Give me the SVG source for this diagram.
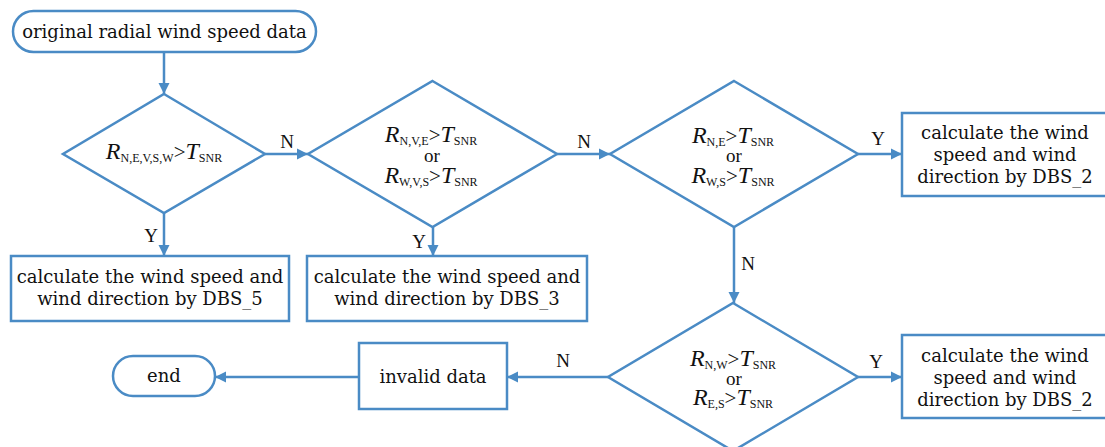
<svg xmlns="http://www.w3.org/2000/svg" width="1105" height="447" viewBox="0 0 1105 447">
<style>
.s{fill:#fff;stroke:#4a8bc5;stroke-width:2.5}
.c{fill:none;stroke:#4a8bc5;stroke-width:2.5}
.t{font-family:"DejaVu Serif","Liberation Serif",serif;font-size:18px;fill:#111;text-anchor:middle}
.l{font-family:"Liberation Serif",serif;font-size:19px;fill:#111;text-anchor:middle}
.m{font-family:"Liberation Serif",serif;font-size:21px;fill:#111;text-anchor:middle}
.o{font-family:"Liberation Serif",serif;font-size:19px;fill:#111;text-anchor:middle}
.i{font-style:italic;font-size:24px}
.b{font-size:12px}
</style>
<defs>
<marker id="ah" markerUnits="userSpaceOnUse" markerWidth="12" markerHeight="12" refX="11" refY="6" orient="auto">
<path d="M0,0.5 L11,6 L0,11.5 z" fill="#4a8bc5"/>
</marker>
</defs>
<g id="connectors">
<path class="c" d="M164,52 V94" marker-end="url(#ah)"/>
<path class="c" d="M265,154 H308" marker-end="url(#ah)"/>
<path class="c" d="M164,213 V256" marker-end="url(#ah)"/>
<path class="c" d="M557,154 H610" marker-end="url(#ah)"/>
<path class="c" d="M433,227 V256" marker-end="url(#ah)"/>
<path class="c" d="M858,154 H902" marker-end="url(#ah)"/>
<path class="c" d="M734,227 V303" marker-end="url(#ah)"/>
<path class="c" d="M858,377 H902" marker-end="url(#ah)"/>
<path class="c" d="M608,377 H507" marker-end="url(#ah)"/>
<path class="c" d="M359,377 H215" marker-end="url(#ah)"/>
<text class="l" x="287" y="148">N</text>
<text class="l" x="151" y="242">Y</text>
<text class="l" x="584" y="148">N</text>
<text class="l" x="419" y="248">Y</text>
<text class="l" x="878" y="145">Y</text>
<text class="l" x="748" y="270">N</text>
<text class="l" x="876" y="368">Y</text>
<text class="l" x="563" y="367">N</text>
</g>
<g id="start">
<rect class="s" x="13" y="11" width="303" height="41" rx="20.5"/>
<text class="t" x="164.5" y="38">original radial wind speed data</text>
</g>
<g id="d1">
<polygon class="s" points="164,94 265,154 164,213 63,154"/>
<text class="m" x="164" y="159"><tspan class="i">R</tspan><tspan class="b" dy="3">N,E,V,S,W</tspan><tspan dy="-3">&gt;</tspan><tspan class="i">T</tspan><tspan class="b" dy="3">SNR</tspan></text>
</g>
<g id="d2">
<polygon class="s" points="432.5,81 557,154 432.5,227 308,154"/>
<text class="m" x="431" y="142"><tspan class="i">R</tspan><tspan class="b" dy="3">N,V,E</tspan><tspan dy="-3">&gt;</tspan><tspan class="i">T</tspan><tspan class="b" dy="3">SNR</tspan></text>
<text class="o" x="432" y="162">or</text>
<text class="m" x="431" y="183"><tspan class="i">R</tspan><tspan class="b" dy="3">W,V,S</tspan><tspan dy="-3">&gt;</tspan><tspan class="i">T</tspan><tspan class="b" dy="3">SNR</tspan></text>
</g>
<g id="d3">
<polygon class="s" points="734,81 858,154 734,227 610,154"/>
<text class="m" x="733" y="143"><tspan class="i">R</tspan><tspan class="b" dy="3">N,E</tspan><tspan dy="-3">&gt;</tspan><tspan class="i">T</tspan><tspan class="b" dy="3">SNR</tspan></text>
<text class="o" x="734" y="162">or</text>
<text class="m" x="733" y="183"><tspan class="i">R</tspan><tspan class="b" dy="3">W,S</tspan><tspan dy="-3">&gt;</tspan><tspan class="i">T</tspan><tspan class="b" dy="3">SNR</tspan></text>
</g>
<g id="d4">
<polygon class="s" points="733,303 858,377 733,451 608,377"/>
<text class="m" x="733" y="366"><tspan class="i">R</tspan><tspan class="b" dy="3">N,W</tspan><tspan dy="-3">&gt;</tspan><tspan class="i">T</tspan><tspan class="b" dy="3">SNR</tspan></text>
<text class="o" x="734" y="385">or</text>
<text class="m" x="733" y="405"><tspan class="i">R</tspan><tspan class="b" dy="3">E,S</tspan><tspan dy="-3">&gt;</tspan><tspan class="i">T</tspan><tspan class="b" dy="3">SNR</tspan></text>
</g>
<g id="dbs5">
<rect class="s" x="11" y="256" width="278" height="65"/>
<text class="t" x="150" y="283">calculate the wind speed and</text>
<text class="t" x="150" y="305">wind direction by DBS_5</text>
</g>
<g id="dbs3">
<rect class="s" x="307" y="256" width="280" height="65"/>
<text class="t" x="447" y="283">calculate the wind speed and</text>
<text class="t" x="447" y="305">wind direction by DBS_3</text>
</g>
<g id="dbs2a">
<rect class="s" x="902" y="113" width="205" height="83"/>
<text class="t" x="1005" y="139">calculate the wind</text>
<text class="t" x="1005" y="161">speed and wind</text>
<text class="t" x="1005" y="183">direction by DBS_2</text>
</g>
<g id="dbs2b">
<rect class="s" x="902" y="335" width="205" height="83"/>
<text class="t" x="1005" y="362">calculate the wind</text>
<text class="t" x="1005" y="384">speed and wind</text>
<text class="t" x="1005" y="406">direction by DBS_2</text>
</g>
<g id="invalid">
<rect class="s" x="359" y="343" width="148" height="66"/>
<text class="t" x="433" y="383">invalid data</text>
</g>
<g id="end">
<rect class="s" x="113" y="356" width="102" height="40" rx="20"/>
<text class="t" x="164" y="382">end</text>
</g>
</svg>
